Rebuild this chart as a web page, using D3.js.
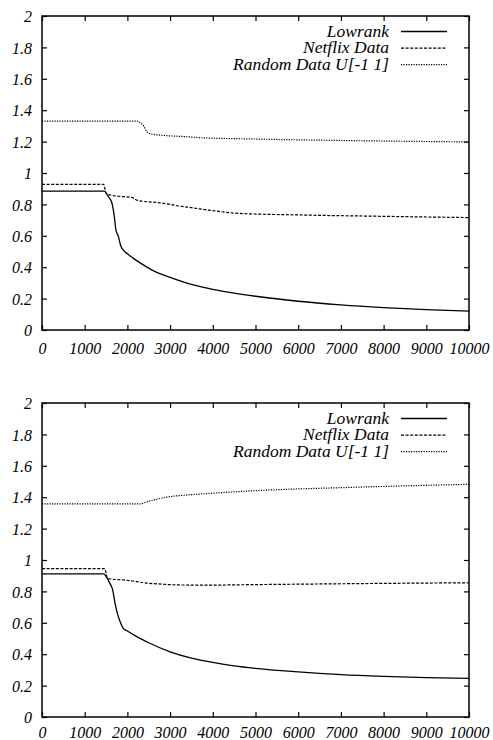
<!DOCTYPE html>
<html>
<head>
<meta charset="utf-8">
<script src="https://cdn.jsdelivr.net/npm/d3@7"></script>
<style>
  html, body { margin: 0; padding: 0; background: #fff; }
  svg { display: block; }
</style>
</head>
<body>
<svg id="chart" width="493" height="740"></svg>
<script>
// ---------- data ----------
const seriesNames = ["Lowrank", "Netflix Data", "Random Data U[-1 1]"];
const xTicks = [0, 1000, 2000, 3000, 4000, 5000, 6000, 7000, 8000, 9000, 10000];
const yTicks = [0, 0.2, 0.4, 0.6, 0.8, 1, 1.2, 1.4, 1.6, 1.8, 2];

// top panel
const lowrankTopX = [0, 1450, 1500, 1550, 1630, 1690, 1730, 1790, 1840, 1900, 2000, 2200, 2400, 2700, 3000, 3500, 4000, 4500, 5000, 6000, 7000, 8000, 9000, 10000];
const lowrankTopY = [0.885, 0.885, 0.875, 0.85, 0.815, 0.73, 0.64, 0.595, 0.54, 0.51, 0.485, 0.445, 0.41, 0.365, 0.335, 0.29, 0.259, 0.235, 0.215, 0.183, 0.16, 0.143, 0.13, 0.12];
const netflixTopX = [0, 1440, 1510, 1800, 2100, 2200, 2300, 2700, 3000, 3200, 3500, 4000, 4600, 6000, 8000, 10000];
const netflixTopY = [0.928, 0.928, 0.866, 0.852, 0.845, 0.83, 0.822, 0.812, 0.80, 0.79, 0.779, 0.76, 0.743, 0.733, 0.724, 0.716];
const randomTopX = [0, 2220, 2300, 2380, 2450, 2570, 2920, 3400, 3700, 4900, 7300, 10000];
const randomTopY = [1.33, 1.33, 1.32, 1.30, 1.265, 1.248, 1.238, 1.231, 1.225, 1.217, 1.206, 1.198];

// bottom panel
const lowrankBotX = [0, 1450, 1500, 1590, 1655, 1710, 1765, 1830, 1905, 2000, 2200, 2500, 3000, 3500, 4000, 4500, 5000, 6000, 7000, 8000, 9000, 10000];
const lowrankBotY = [0.911, 0.911, 0.895, 0.851, 0.81, 0.725, 0.66, 0.607, 0.565, 0.548, 0.515, 0.473, 0.415, 0.375, 0.348, 0.326, 0.31, 0.287, 0.27, 0.259, 0.251, 0.246];
const netflixBotX = [0, 1470, 1530, 1600, 1900, 2140, 2370, 2700, 3230, 4000, 4600, 6000, 8000, 10000];
const netflixBotY = [0.945, 0.945, 0.885, 0.879, 0.873, 0.866, 0.855, 0.848, 0.841, 0.84, 0.842, 0.846, 0.851, 0.855];
const randomBotX = [0, 2290, 2450, 2610, 2920, 3390, 3700, 4950, 7290, 10000];
const randomBotY = [1.357, 1.357, 1.37, 1.382, 1.40, 1.414, 1.42, 1.441, 1.463, 1.482];

// ---------- drawing ----------
const svg = d3.select("#chart");
const FONT = '"Liberation Serif", "Times New Roman", serif';
const styles = [
  { width: 1.3, dash: null },
  { width: 1.2, dash: "3,1.6" },
  { width: 1.2, dash: "1.2,1.3" }
];

function zip(xs, ys) { return xs.map((x, i) => [x, ys[i]]); }
function serif(sel, size) {
  return sel.style("font-family", FONT).style("font-style", "italic").style("font-size", size + "px").style("fill", "#000");
}

function panel(top, series, xPad) {
  const left = 42, right = 469, bottom = top + 314;
  const x = d3.scaleLinear().domain([0, 10000]).range([left, right]);
  const y = d3.scaleLinear().domain([0, 2]).range([bottom, top]);
  const g = svg.append("g");
  const tl = 5;

  const axB = g.append("g").attr("transform", `translate(0,${bottom})`)
    .call(d3.axisBottom(x).tickValues(xTicks).tickSize(-tl).tickPadding(xPad).tickFormat(d3.format("d")));
  const axT = g.append("g").attr("transform", `translate(0,${top})`)
    .call(d3.axisTop(x).tickValues(xTicks).tickSize(-tl).tickFormat(""));
  const axL = g.append("g").attr("transform", `translate(${left},0)`)
    .call(d3.axisLeft(y).tickValues(yTicks).tickSize(-tl).tickPadding(10).tickFormat(d => String(+d.toFixed(1))));
  const axR = g.append("g").attr("transform", `translate(${right},0)`)
    .call(d3.axisRight(y).tickValues(yTicks).tickSize(-tl).tickFormat(""));
  [axB, axT, axL, axR].forEach(a => {
    a.select(".domain").remove();
    a.selectAll("line").attr("stroke", "#000").attr("stroke-width", 1.2);
    serif(a.selectAll("text"), 16);
  });
  axB.selectAll("text").attr("dy", "0.71em");
  axL.selectAll("text").attr("dy", "0.35em");

  g.append("rect").attr("x", left).attr("y", top).attr("width", right - left).attr("height", bottom - top)
    .attr("fill", "none").attr("stroke", "#000").attr("stroke-width", 1.5);

  const line = d3.line().x(d => x(d[0])).y(d => y(d[1])).curve(d3.curveMonotoneX);
  series.forEach((s, i) => {
    g.append("path").datum(s).attr("d", line).attr("fill", "none").attr("stroke", "#000")
      .attr("stroke-width", styles[i].width).attr("stroke-dasharray", styles[i].dash);
  });

  seriesNames.forEach((name, i) => {
    const ly = top + 15.5 + i * 16.6;
    serif(g.append("text").attr("x", 389).attr("y", ly + 5).attr("text-anchor", "end"), 17.5).text(name);
    g.append("line").attr("x1", 401).attr("x2", 447).attr("y1", ly).attr("y2", ly)
      .attr("stroke", "#000").attr("stroke-width", styles[i].width).attr("stroke-dasharray", styles[i].dash);
  });
}

panel(16, [zip(lowrankTopX, lowrankTopY), zip(netflixTopX, netflixTopY), zip(randomTopX, randomTopY)], 13);
panel(403, [zip(lowrankBotX, lowrankBotY), zip(netflixBotX, netflixBotY), zip(randomBotX, randomBotY)], 10);
</script>
</body>
</html>
